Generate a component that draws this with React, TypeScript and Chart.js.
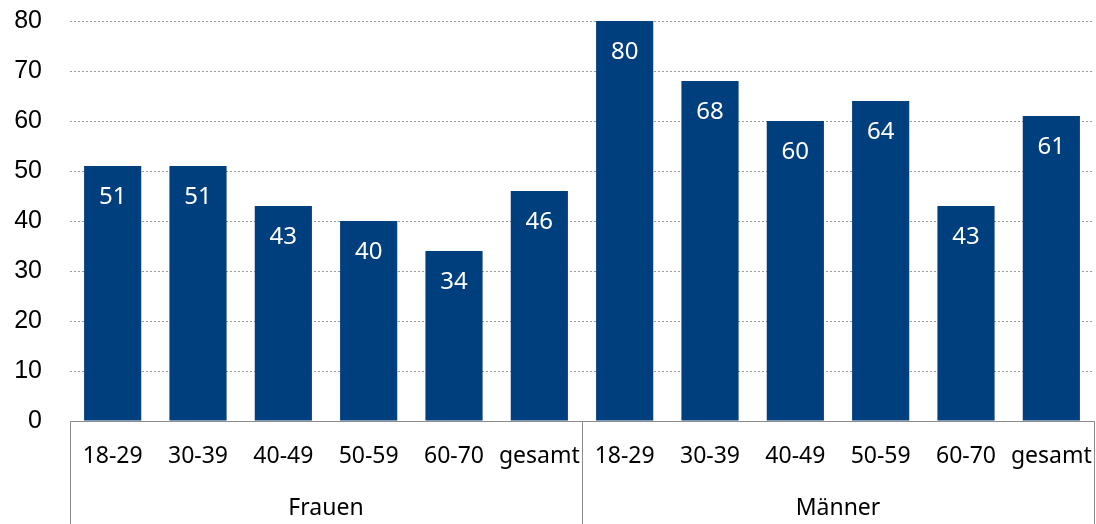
import React, { useEffect, useRef } from "react";
import { Chart, registerables } from "chart.js";

Chart.register(...registerables);

const categories = ["18-29", "30-39", "40-49", "50-59", "60-70", "gesamt", "18-29", "30-39", "40-49", "50-59", "60-70", "gesamt"];
const values = [51, 51, 43, 40, 34, 46, 80, 68, 60, 64, 43, 61];
const groups = ["Frauen", "Männer"];
const groupSize = 6;
const yTicks = [0, 10, 20, 30, 40, 50, 60, 70, 80];

const BAR = "#003f7d";
const LABEL_FONT = "'Noto Sans', sans-serif";

const overlay = {
  id: "overlay",
  afterDatasetsDraw(chart: any) {
    const ctx = chart.ctx;
    const meta = chart.getDatasetMeta(0);
    ctx.save();
    ctx.fillStyle = "#ffffff";
    ctx.font = `24px ${LABEL_FONT}`;
    ctx.textAlign = "center";
    ctx.textBaseline = "middle";
    meta.data.forEach((bar: any, i: number) => {
      ctx.fillText(String(values[i]), bar.x, bar.y + 31);
    });
    ctx.restore();
  },
  afterDraw(chart: any) {
    const ctx = chart.ctx;
    const area = chart.chartArea;
    const x = chart.scales.x;
    const h = chart.height;
    ctx.save();
    ctx.strokeStyle = "#8c8c8c";
    ctx.lineWidth = 1;
    const n = groups.length;
    const step = (area.right - area.left) / n;
    for (let g = 0; g <= n; g++) {
      const px = Math.round(area.left + g * step) + 0.5;
      ctx.beginPath();
      ctx.moveTo(px, area.bottom);
      ctx.lineTo(px, h);
      ctx.stroke();
    }
    ctx.fillStyle = "#000000";
    ctx.font = `23px ${LABEL_FONT}`;
    ctx.textAlign = "center";
    ctx.textBaseline = "middle";
    groups.forEach((name, g) => {
      const a = x.getPixelForValue(g * groupSize);
      const b = x.getPixelForValue(g * groupSize + groupSize - 1);
      ctx.fillText(name, (a + b) / 2, 508);
    });
    ctx.restore();
  },
};

export default function App() {
  const ref = useRef<HTMLCanvasElement | null>(null);
  useEffect(() => {
    if (!ref.current) return;
    const chart = new Chart(ref.current, {
      type: "bar",
      data: {
        labels: categories,
        datasets: [
          {
            data: values,
            backgroundColor: BAR,
            barPercentage: 0.67,
            categoryPercentage: 1,
          },
        ],
      },
      options: {
        animation: false,
        responsive: false,
        maintainAspectRatio: false,
        layout: { padding: { top: 21, right: 2, bottom: 0, left: 0 } },
        plugins: { legend: { display: false }, tooltip: { enabled: false } },
        scales: {
          x: {
            grid: { display: false, drawTicks: false },
            border: { display: true, color: "#8c8c8c", width: 1 },
            ticks: {
              color: "#000",
              font: { family: LABEL_FONT, size: 23 },
              padding: 22,
              maxRotation: 0,
              autoSkip: false,
            },
            afterFit(scale: any) {
              scale.height = 103;
              scale.paddingLeft = 0;
              scale.paddingRight = 0;
            },
          },
          y: {
            min: 0,
            max: 80,
            afterBuildTicks(scale: any) {
              scale.ticks = yTicks.map((v) => ({ value: v }));
            },
            grid: {
              color: "#9a9a9a",
              lineWidth: 1,
              drawTicks: false,
            },
            border: { display: false, dash: [2, 2] },
            ticks: {
              color: "#000",
              font: { family: "'Liberation Sans', Arial, sans-serif", size: 25 },
              padding: 28,
            },
            afterFit(scale: any) {
              scale.width = 70;
              scale.paddingTop = 0;
              scale.paddingBottom = 0;
            },
          },
        },
      } as any,
      plugins: [overlay],
    });
    return () => chart.destroy();
  }, []);
  return (
    <div style={{ position: "absolute", left: 0, top: 0, width: 1096, height: 524 }}>
      <canvas ref={ref} width={1096} height={524} style={{ width: 1096, height: 524 }} />
    </div>
  );
}
